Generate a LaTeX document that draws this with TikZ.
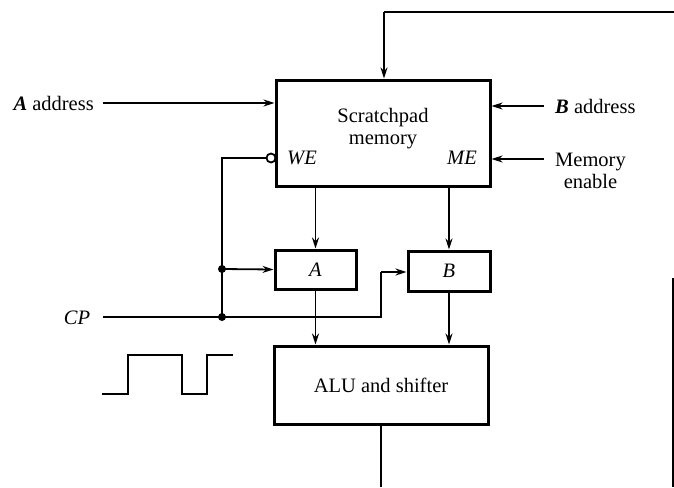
\documentclass[tikz,border=0pt]{standalone}
\usepackage{fontspec}
\setmainfont{Liberation Serif}
\usetikzlibrary{arrows.meta}
\begin{document}
\begin{tikzpicture}[x=1pt,y=-1pt,
  box/.style={draw,line width=3pt,inner sep=0pt,minimum width=#1},
  wire/.style={line width=1.8pt},
  arr/.style={wire,-{Stealth[length=11pt,width=7pt]}},
  lbl/.style={inner sep=0pt,font=\fontsize{20.5}{22}\selectfont},
  dot/.style={circle,fill,inner sep=0pt,minimum size=8pt}]
\useasboundingbox (0,0) rectangle (674,487);
% boxes
\node[box=214pt,minimum height=106pt] (mem) at (383,133) {};
\node[lbl,align=center] (memtxt) at (383,129) {Scratchpad\\memory};
\node[lbl] (we) at (302,158) {\itshape WE};
\node[lbl] (me) at (462,158) {\itshape ME};
\node[box=81pt,minimum height=39pt,lbl] (ra) at (315.5,269.5) {\itshape A};
\node[box=82pt,minimum height=40pt,lbl] (rb) at (449,271) {\itshape B};
\node[box=214pt,minimum height=78pt,lbl] (alu) at (381,385) {ALU and shifter};
% labels
\node[lbl,anchor=east] (aaddr) at (94,103) {{\bfseries\itshape A} address};
\node[lbl,anchor=west] (baddr) at (555,106) {{\bfseries\itshape B} address};
\node[lbl,anchor=west,align=center] (menable) at (555,171) {Memory\\enable};
\node[lbl] (cp) at (77,318) {\itshape CP};
% coordinates
\coordinate (topR) at (674,12);
\coordinate (topL) at (384,12);
\coordinate (aS) at (103,103);
\coordinate (bS) at (544,106);
\coordinate (mS) at (544,159);
\coordinate (weL) at (222,158);
\coordinate (cpS) at (103,317);
\node[dot] (j1) at (222,269) {};
\node[dot] (j2) at (222,317) {};
\coordinate (cpR) at (381,317);
\coordinate (cpU) at (381,272);
\node[circle,draw,line width=1.8pt,inner sep=0pt,minimum size=9pt] (bub) at (271,158) {};
\coordinate (outE) at (381,487);
\coordinate (rT) at (673,278);
\coordinate (rB) at (673,487);
% connectors
\draw[wire,line width=2.2pt] (topR) -- (topL);
\draw[arr] (topL) -- (topL |- mem.north);
\draw[arr] (aS) -- (aS -| mem.west);
\draw[arr] (bS) -- (bS -| mem.east);
\draw[arr] (mS) -- (mS -| mem.east);
\draw[wire] (bub.west) -- (weL) -- (j2.center);
\draw[arr] (j1.center) -- (ra.west);
\draw[wire] (cpS) -- (j2.center) -- (cpR) -- (cpU);
\draw[arr] (cpU) -- (cpU -| rb.west);
\draw[arr] (mem.south -| ra.north) -- (ra.north);
\draw[arr] (mem.south -| rb.north) -- (rb.north);
\draw[arr] (ra.south) -- (ra.south |- alu.north);
\draw[arr] (rb.south) -- (rb.south |- alu.north);
\draw[wire] (alu.south) -- (outE);
\draw[wire] (rT) -- (rB);
% clock waveform
\draw[line width=2.6pt] (102,394) -- (128,394) -- (128,355) -- (182,355) -- (182,394) -- (207,394) -- (207,355) -- (233,355);
\end{tikzpicture}
\end{document}
